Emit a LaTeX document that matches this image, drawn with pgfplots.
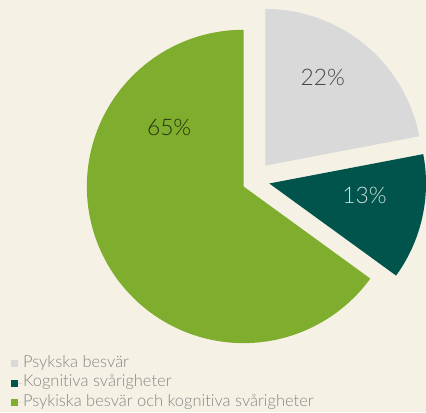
\documentclass[border=0pt]{standalone}
\usepackage{pgfplots}
\pgfplotsset{compat=1.18}
\usepackage{fontspec}
\setmainfont{Lato}[Ligatures=NoCommon]
\newfontfamily\lightfont{Lato Light}[Ligatures=NoCommon]
\definecolor{bg}{HTML}{F5F2E5}
\definecolor{cgray}{HTML}{D9D9D9}
\definecolor{cteal}{HTML}{00544B}
\definecolor{cgreen}{HTML}{7FAD2D}
\definecolor{legtext}{HTML}{858585}
\pgfplotsset{sqlegend/.style={legend image code/.code={\fill[##1] (0bp,-3.5bp) rectangle (7bp,3.5bp); \path (0bp,0bp) -- (11.5bp,0bp);}}}
% data (percent)
\def\vA{22}\def\vB{13}\def\vC{65}
\pgfmathsetmacro\aA{90}
\pgfmathsetmacro\aB{90-3.6*\vA}
\pgfmathsetmacro\aC{\aB-3.6*\vB}
\pgfmathsetmacro\aD{\aC-3.6*\vC}
\def\R{158}
\begin{document}
\pagecolor{bg}
\begin{tikzpicture}
\begin{axis}[hide axis, x=1bp, y=1bp, xmin=-243, xmax=183, ymin=-221, ymax=188, clip=false,
  legend style={at={(axis cs:-235,-169)}, anchor=north west, draw=none, fill=none,
    font=\lightfont\fontsize{16.6bp}{19.5bp}\selectfont, text=legtext, inner sep=0pt, row sep=0pt,
    nodes={inner xsep=1bp, inner ysep=2.5bp, text height=11bp, text depth=3.5bp}},
  legend cell align=left]
\path (rel axis cs:0,0) rectangle (rel axis cs:1,1);
% gray slice (exploded)
\addplot[draw=none, fill=cgray, domain=0:60, samples=61, forget plot]
  ({(x<0.5) ? 22 : 22+\R*cos(\aB+(\aA-\aB)*(x-1)/59)},
   {(x<0.5) ? 21 : 21+\R*sin(\aB+(\aA-\aB)*(x-1)/59)});
% teal slice (exploded)
\addplot[draw=none, fill=cteal, domain=0:60, samples=61, forget plot]
  ({(x<0.5) ? 26 : 26+\R*cos(\aC+(\aB-\aC)*(x-1)/59)},
   {(x<0.5) ? 3 : 3+\R*sin(\aC+(\aB-\aC)*(x-1)/59)});
% green slice
\addplot[draw=none, fill=cgreen, domain=0:120, samples=121, forget plot]
  ({(x<0.5) ? 0 : \R*cos(\aD+(\aC-\aD)*(x-1)/119)},
   {(x<0.5) ? 0 : \R*sin(\aD+(\aC-\aD)*(x-1)/119)});
\addlegendimage{sqlegend, fill=cgray, draw=none}
\addlegendentry{Psykska besvär}
\addlegendimage{sqlegend, fill=cteal, draw=none}
\addlegendentry{Kognitiva svårigheter}
\addlegendimage{sqlegend, fill=cgreen, draw=none}
\addlegendentry{Psykiska besvär och kognitiva svårigheter}
\node[font=\lightfont\fontsize{23bp}{23bp}\selectfont, text=black!72] at (axis cs:80,110) {22\%};
\node[font=\lightfont\fontsize{23bp}{23bp}\selectfont, text=white!80!cteal] at (axis cs:122,-9) {13\%};
\node[font=\lightfont\fontsize{23bp}{23bp}\selectfont, text=black!70!cgreen] at (axis cs:-75,60) {65\%};
\end{axis}
\end{tikzpicture}
\end{document}
